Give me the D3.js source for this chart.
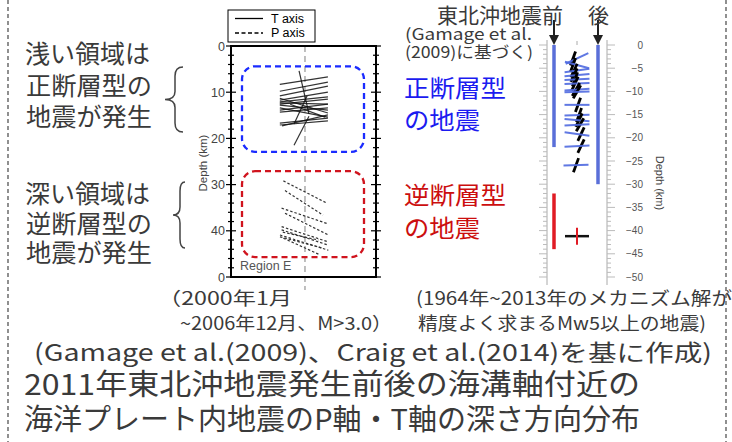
<!DOCTYPE html>
<html><head><meta charset="utf-8">
<script src="https://cdn.jsdelivr.net/npm/d3@7"></script>
<style>body{margin:0;background:#fff}svg{display:block}</style>
</head><body>
<script>
// ---------- DATA ----------
const leftDepthTicks = [0, 10, 20, 30, 40, 50];
const leftDepthTickLabels = ["0", "10", "20", "30", "40", "0"];
// T-axis segments (Gamage et al. 2009): [xStart, depthStart, xEnd, depthEnd]
const tAxisSegments = [
  [-17, 8.3, 15.5, 6.7], [-17, 9.8, 15.5, 7.8], [-17, 10.8, 15.5, 8.7],
  [-17, 11.7, 15.5, 10.0], [-17, 12.1, 15.5, 11.0], [-17, 12.6, 15.5, 11.5],
  [-17, 12.3, 15.5, 12.6], [-17, 11.3, 15.5, 14.5], [-17, 12.8, 15.5, 13.9],
  [-17, 13.4, 15.5, 15.4], [-17, 13.9, 15.5, 12.6], [-17, 14.3, 15.5, 13.4],
  [-17, 16.7, 15.5, 15.6], [-17, 17.1, 15.5, 16.2], [-15.5, 17.3, 15.5, 14.9],
  [-10, 12.6, 13.5, 15.4], [-4, 5.4, 2.7, 14.7], [2.7, 15.2, -7.4, 21.5],
  [-7.4, 16.9, 1.4, 10.8]
];
// P-axis segments
const pAxisSegments = [
  [-14.6, 29.2, 14.7, 34.0], [-13.5, 31.3, 12.2, 36.6], [-15.8, 35.1, 14.7, 38.4],
  [-13.5, 36.2, 15.8, 40.9], [-15.8, 39.1, 15.8, 42.4], [-15.8, 39.8, 15.8, 43.1],
  [-16.9, 40.9, 15.8, 44.2], [-16.9, 41.3, 12.5, 43.8], [-14.6, 41.6, 10.1, 45.2],
  [-15, 40.3, 9, 42.0]
];
const rightDepthTicks = [0, -5, -10, -15, -20, -25, -30, -35, -40, -45, -50];
const beforeNormalRange = [0, -22];
const afterNormalRange = [0, -30];
const beforeReverseRange = [-32, -44];
const columnX = { before: 7, after: 51 };
// normal-fault events: [depth, T centre x, P centre x, T tilt deg, P tilt deg]
const normalEvents = [
  [-2.9, 30, 26, 25, -20], [-4.3, 30, 26, -15, -20], [-5.5, 30, 27, 8, -25],
  [-6.5, 30, 27, 5, -25], [-7.4, 30, 28, 3, -20], [-8.3, 30, 28, 2, -25],
  [-9.6, 30, 29, 4, -30], [-10.1, 30, 30, 2, -30], [-12.9, 30, 31, 0, -20],
  [-15.1, 30, 32, 2, -20], [-16.2, 30, 32, -5, -25], [-17.2, 30, 33, 3, -30],
  [-19.2, 30, 34, -8, -25], [-21.8, 30, 34, 3, -25], [-25.9, 29, 29, 2, -20]
];
// reverse-fault events: [depth, P centre x, T centre x]
const reverseEvents = [[-41.2, 30, 30]];

// ---------- DRAW ----------
const W = 732, H = 442;
const svg = d3.select("body").append("svg").attr("width", W).attr("height", H)
  .style("font-family", "'Noto Sans CJK JP','Noto Sans',sans-serif");
svg.append("rect").attr("width", W).attr("height", H).attr("fill", "#fff");

// dashed slide borders
[8, 726].forEach(x => svg.append("line").attr("x1", x).attr("x2", x).attr("y1", 0).attr("y2", H)
  .attr("stroke", "#555").attr("stroke-width", 1.3).attr("stroke-dasharray", "4,3"));

// ---- left panel ----
const lx = d3.scaleLinear().domain([-50, 48]).range([231, 376]);
const ly = d3.scaleLinear().domain([0, 50]).range([46, 277]);
const gL = svg.append("g");

// centre dashed line
gL.append("line").attr("x1", lx(0)).attr("x2", lx(0)).attr("y1", ly(0)).attr("y2", 290)
  .attr("stroke", "#aaa").attr("stroke-width", 1.5).attr("stroke-dasharray", "6,4");

// regions
gL.append("rect").attr("x", 242).attr("y", ly(4.4)).attr("width", 122).attr("height", ly(22.9) - ly(4.4))
  .attr("rx", 13).attr("fill", "none").attr("stroke", "#1a2bff").attr("stroke-width", 2.3).attr("stroke-dasharray", "6,4");
gL.append("rect").attr("x", 242).attr("y", ly(27.1)).attr("width", 122).attr("height", ly(45.7) - ly(27.1))
  .attr("rx", 13).attr("fill", "none").attr("stroke", "#d0141e").attr("stroke-width", 2.3).attr("stroke-dasharray", "6,4");

gL.selectAll(".t").data(tAxisSegments).join("line")
  .attr("x1", d => lx(d[0])).attr("y1", d => ly(d[1])).attr("x2", d => lx(d[2])).attr("y2", d => ly(d[3]))
  .attr("stroke", "#111").attr("stroke-width", 1.2).attr("opacity", 0.85);
gL.selectAll(".p").data(pAxisSegments).join("line")
  .attr("x1", d => lx(d[0])).attr("y1", d => ly(d[1])).attr("x2", d => lx(d[2])).attr("y2", d => ly(d[3]))
  .attr("stroke", "#333").attr("stroke-width", 1.2).attr("stroke-dasharray", "2.5,2");

// axes
const axL = d3.axisLeft(ly).tickValues(d3.range(0, 51, 2)).tickSize(0).tickFormat("");
const gax = gL.append("g");
d3.range(0, 51, 2).forEach(v => {
  const major = v % 10 === 0;
  [[231, 1], [376, -1]].forEach(([x, s]) => {
    gax.append("line").attr("x1", x - (major ? 5 : 3)).attr("x2", x + (major ? 5 : 3))
      .attr("y1", ly(v)).attr("y2", ly(v)).attr("stroke", "#000").attr("stroke-width", 1.2);
  });
});
gL.append("rect").attr("x", 231).attr("y", ly(0)).attr("width", 145).attr("height", ly(50) - ly(0))
  .attr("fill", "none").attr("stroke", "#000").attr("stroke-width", 2);
gL.selectAll(".yl").data(leftDepthTicks).join("text")
  .attr("x", 225).attr("y", d => ly(d) + 4.5).attr("text-anchor", "end")
  .attr("font-family", "'Liberation Sans',Arial,sans-serif").attr("font-size", 12.5).attr("fill", "#444")
  .text((d, i) => leftDepthTickLabels[i]);
gL.append("text").attr("transform", "translate(207,163) rotate(-90)").attr("text-anchor", "middle")
  .attr("font-family", "'Liberation Sans',Arial,sans-serif").attr("font-size", 11.5).attr("fill", "#444").text("Depth (km)");
gL.append("text").attr("x", 240).attr("y", 270).attr("font-family", "'Liberation Sans',Arial,sans-serif")
  .attr("font-size", 12.5).attr("fill", "#555").text("Region E");

// legend
const lg = svg.append("g");
lg.append("rect").attr("x", 228).attr("y", 10).attr("width", 87).attr("height", 32).attr("fill", "#fff").attr("stroke", "#000").attr("stroke-width", 1);
lg.append("line").attr("x1", 235).attr("x2", 263).attr("y1", 18.5).attr("y2", 18.5).attr("stroke", "#000").attr("stroke-width", 1.3);
lg.append("line").attr("x1", 235).attr("x2", 263).attr("y1", 33).attr("y2", 33).attr("stroke", "#000").attr("stroke-width", 1.3).attr("stroke-dasharray", "4,2.5");
lg.append("text").attr("x", 271).attr("y", 22.5).attr("font-family", "'Liberation Sans',Arial,sans-serif").attr("font-size", 12.5).text("T axis");
lg.append("text").attr("x", 271).attr("y", 37).attr("font-family", "'Liberation Sans',Arial,sans-serif").attr("font-size", 12.5).text("P axis");

// ---- right panel ----
const rx = d3.scaleLinear().domain([0, 60]).range([547, 607]);
const ry = d3.scaleLinear().domain([0, -50]).range([45, 277]);
const gR = svg.append("g");
// axis lines + ticks
[547, 607].forEach(x => gR.append("line").attr("x1", x).attr("x2", x).attr("y1", 40).attr("y2", 285).attr("stroke", "#aaa").attr("stroke-width", 1));
d3.range(0, -51, -1).forEach(v => {
  const major = v % 5 === 0;
  gR.append("line").attr("x1", 547 - (major ? 8 : 4)).attr("x2", 547).attr("y1", ry(v)).attr("y2", ry(v)).attr("stroke", "#bbb");
  gR.append("line").attr("x1", 607).attr("x2", 607 + (major ? 8 : 4)).attr("y1", ry(v)).attr("y2", ry(v)).attr("stroke", "#bbb");
});
gR.append("line").attr("x1", 577).attr("x2", 577).attr("y1", 41).attr("y2", 45).attr("stroke", "#aaa");
gR.selectAll(".ryl").data(rightDepthTicks).join("text")
  .attr("x", 643).attr("y", d => ry(d) + 3.5).attr("text-anchor", "end")
  .attr("font-family", "'Liberation Sans',Arial,sans-serif").attr("font-size", 10).attr("fill", "#555")
  .text(d => d === 0 ? "0" : "\u2212" + Math.abs(d));
gR.append("text").attr("transform", "translate(656,183) rotate(90)").attr("text-anchor", "middle")
  .attr("font-family", "'Liberation Sans',Arial,sans-serif").attr("font-size", 11).attr("fill", "#444").text("Depth (km)");

// vertical columns
gR.append("line").attr("x1", rx(columnX.before)).attr("x2", rx(columnX.before)).attr("y1", ry(beforeNormalRange[0])).attr("y2", ry(beforeNormalRange[1])).attr("stroke", "#5a6fd8").attr("stroke-width", 3.5);
gR.append("line").attr("x1", rx(columnX.after)).attr("x2", rx(columnX.after)).attr("y1", ry(afterNormalRange[0])).attr("y2", ry(afterNormalRange[1])).attr("stroke", "#5a6fd8").attr("stroke-width", 3.5);
gR.append("line").attr("x1", rx(columnX.before)).attr("x2", rx(columnX.before)).attr("y1", ry(beforeReverseRange[0])).attr("y2", ry(beforeReverseRange[1])).attr("stroke", "#e01b24").attr("stroke-width", 3.5);

// normal events
const rad = Math.PI / 180;
normalEvents.forEach(([d, tx, px, tt, pt]) => {
  const tl = 12.5, pl = 7.5;
  gR.append("line")
    .attr("x1", rx(px) - pl * Math.sin(pt * rad)).attr("y1", ry(d) - pl * Math.cos(pt * rad))
    .attr("x2", rx(px) + pl * Math.sin(pt * rad)).attr("y2", ry(d) + pl * Math.cos(pt * rad))
    .attr("stroke", "#000").attr("stroke-width", 2.8);
  gR.append("line")
    .attr("x1", rx(tx) - tl * Math.cos(tt * rad)).attr("y1", ry(d) + tl * Math.sin(tt * rad))
    .attr("x2", rx(tx) + tl * Math.cos(tt * rad)).attr("y2", ry(d) - tl * Math.sin(tt * rad))
    .attr("stroke", "#4f6ae0").attr("stroke-width", 2).attr("opacity", 0.9);
});
reverseEvents.forEach(([d, px, tx]) => {
  gR.append("line").attr("x1", rx(px) - 12).attr("x2", rx(px) + 12).attr("y1", ry(d)).attr("y2", ry(d)).attr("stroke", "#111").attr("stroke-width", 2.5);
  gR.append("line").attr("x1", rx(tx)).attr("x2", rx(tx)).attr("y1", ry(d) - 8.5).attr("y2", ry(d) + 8.5).attr("stroke", "#e01b24").attr("stroke-width", 2);
});

// arrows
[columnX.before, columnX.after].forEach(c => {
  const x = rx(c);
  gR.append("line").attr("x1", x).attr("x2", x).attr("y1", 20).attr("y2", 36).attr("stroke", "#222").attr("stroke-width", 2);
  gR.append("path").attr("d", `M${x - 5},35 L${x + 5},35 L${x},45 Z`).attr("fill", "#222");
});

// ---- texts ----
function txt(x, y, s, size, color, len, anchor) {
  const t = svg.append("text").attr("x", x).attr("y", y).attr("font-size", size).attr("fill", color).text(s);
  if (len) t.attr("textLength", len).attr("lengthAdjust", "spacingAndGlyphs");
  if (anchor) t.attr("text-anchor", anchor);
  return t;
}
const dark = "#3a3a3a";
txt(25, 63, "浅い領域は", 25, dark, 125);
txt(26, 95, "正断層型の", 25, dark, 126);
txt(26, 126, "地震が発生", 25, dark, 126);
txt(25, 203, "深い領域は", 25, dark, 125);
txt(26, 233, "逆断層型の", 25, dark, 126);
txt(26, 262, "地震が発生", 25, dark, 126);

function brace(x0, x1, y0, y1) {
  const m = (y0 + y1) / 2, xm = (x0 + x1) / 2 + 1;
  svg.append("path").attr("d",
    `M${x1},${y0} Q${xm},${y0} ${xm},${y0 + 9} L${xm},${m - 8} Q${xm},${m} ${x0},${m} Q${xm},${m} ${xm},${m + 8} L${xm},${y1 - 9} Q${xm},${y1} ${x1},${y1}`)
    .attr("fill", "none").attr("stroke", "#444").attr("stroke-width", 1.5);
}
brace(165, 183, 67, 132);
brace(173, 185, 182, 248);

txt(437, 23, "東北沖地震前", 21, dark, 126);
txt(588, 23, "後", 21, dark);
txt(405, 40, "(Gamage et al.", 16, dark, 127);
txt(405, 58, "(2009)に基づく)", 16, dark, 128);
txt(404, 97, "正断層型", 24, "#1b1bf0", 102);
txt(404, 129, "の地震", 24, "#1b1bf0", 76);
txt(404, 204, "逆断層型", 24, "#cc0e0e", 102);
txt(404, 237, "の地震", 24, "#cc0e0e", 76);

txt(158, 305, "（2000年1月", 18, dark, 134);
txt(180, 330, "~2006年12月、M>3.0）", 18, dark, 212);
txt(416, 305, "(1964年~2013年のメカニズム解が", 18, dark, 316);
txt(418, 330, "精度よく求まるMw5以上の地震)", 18, dark, 288);
txt(34, 361, "(Gamage et al.(2009)、Craig et al.(2014)を基に作成)", 23, dark, 678);
txt(24, 395, "2011年東北沖地震発生前後の海溝軸付近の", 29, dark, 616);
txt(24, 430, "海洋プレート内地震のP軸・T軸の深さ方向分布", 29, dark, 616);
</script>
</body></html>
